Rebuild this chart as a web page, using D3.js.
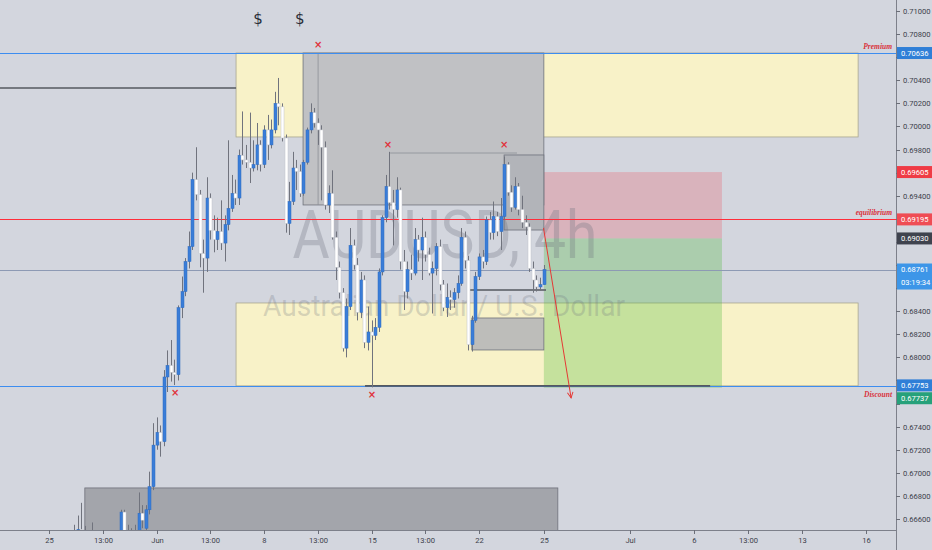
<!DOCTYPE html>
<html><head><meta charset="utf-8">
<script src="https://cdn.jsdelivr.net/npm/d3@7/dist/d3.min.js"></script>
<style>body{margin:0;background:#d3d6de;}svg{display:block}</style>
</head><body><svg id="c" width="932" height="550"></svg>
<script>
// ---------- DATA ----------
const firstBar = 7; // bar index of first candle (6 bars per trading day, bar 0 = 25 May 00:00)
const opens = [0.6646,0.6650,0.6651,0.6648,0.6645,0.6644,0.6646,0.6642,0.6639,0.6641,0.6638,0.6642,0.6644,0.6646,0.6666,0.6650,0.6647,0.6645,0.6650,0.6665,0.6652,0.6668,0.6688,0.6724,0.6735,0.6727,0.6783,0.6793,0.6787,0.6785,0.6843,0.6857,0.6883,0.6896,0.6954,0.6941,0.6890,0.6886,0.6938,0.6910,0.6902,0.6909,0.6899,0.6915,0.6929,0.6942,0.6938,0.6975,0.6971,0.6969,0.6964,0.6967,0.6984,0.6967,0.6997,0.6984,0.6997,0.7020,0.7017,0.6990,0.6916,0.6935,0.6964,0.6961,0.6942,0.6969,0.6997,0.7012,0.7003,0.6997,0.6982,0.6932,0.6942,0.6904,0.6878,0.6856,0.6808,0.6844,0.6897,0.6880,0.6839,0.6867,0.6813,0.6822,0.6819,0.6826,0.6874,0.6921,0.6948,0.6934,0.6928,0.6945,0.6883,0.6857,0.6876,0.6873,0.6902,0.6893,0.6904,0.6889,0.6873,0.6877,0.6896,0.6863,0.6843,0.6852,0.6850,0.6856,0.6864,0.6904,0.6884,0.6811,0.6832,0.6870,0.6887,0.6883,0.6919,0.6908,0.6922,0.6909,0.6922,0.6967,0.6943,0.6930,0.6948,0.6928,0.6917,0.6913,0.6877,0.6867,0.6861,0.6863];
const highs = [0.6655,0.6663,0.6674,0.6654,0.6650,0.6657,0.6650,0.6646,0.6645,0.6644,0.6646,0.6648,0.6650,0.6668,0.6668,0.6655,0.6652,0.6655,0.6683,0.6672,0.6672,0.6701,0.6743,0.6748,0.6741,0.6789,0.6806,0.6815,0.6798,0.6845,0.6870,0.6886,0.6909,0.6960,0.6982,0.6945,0.6902,0.6956,0.6942,0.6923,0.6921,0.6936,0.6923,0.6988,0.6958,0.6954,0.6980,0.7013,0.6984,0.7012,0.6988,0.7003,0.6988,0.7001,0.7010,0.7006,0.7030,0.7042,0.7020,0.6993,0.6952,0.6978,0.6971,0.6967,0.6971,0.6999,0.7020,0.7016,0.7007,0.7001,0.6987,0.6949,0.6962,0.6909,0.6883,0.6860,0.6851,0.6912,0.6902,0.6886,0.6874,0.6871,0.6844,0.6832,0.6834,0.6877,0.6923,0.6958,0.6978,0.6945,0.6956,0.6947,0.6893,0.6883,0.6889,0.6912,0.6906,0.6921,0.6909,0.6895,0.6883,0.6899,0.6902,0.6867,0.6864,0.6858,0.6860,0.6871,0.6912,0.6909,0.6888,0.6836,0.6874,0.6890,0.6893,0.6922,0.6926,0.6935,0.6926,0.6938,0.6974,0.6969,0.6949,0.6956,0.6951,0.6940,0.6923,0.6916,0.6883,0.6871,0.6869,0.6880];
const lows = [0.6642,0.6645,0.6644,0.6642,0.6640,0.6640,0.6638,0.6635,0.6635,0.6633,0.6634,0.6638,0.6639,0.6644,0.6646,0.6642,0.6641,0.6642,0.6648,0.6652,0.6648,0.6664,0.6685,0.6720,0.6714,0.6723,0.6770,0.6779,0.6776,0.6780,0.6834,0.6853,0.6877,0.6893,0.6936,0.6878,0.6856,0.6874,0.6902,0.6891,0.6893,0.6893,0.6883,0.6910,0.6926,0.6932,0.6932,0.6967,0.6964,0.6951,0.6961,0.6962,0.6961,0.6964,0.6971,0.6981,0.6994,0.7001,0.6987,0.6908,0.6906,0.6932,0.6945,0.6939,0.6940,0.6967,0.6994,0.6999,0.6984,0.6936,0.6928,0.6925,0.6902,0.6867,0.6851,0.6805,0.6800,0.6841,0.6876,0.6832,0.6834,0.6808,0.6806,0.6774,0.6815,0.6822,0.6871,0.6917,0.6928,0.6897,0.6921,0.6876,0.6841,0.6851,0.6867,0.6871,0.6883,0.6867,0.6883,0.6871,0.6838,0.6871,0.6858,0.6840,0.6835,0.6841,0.6843,0.6851,0.6862,0.6877,0.6806,0.6805,0.6830,0.6867,0.6877,0.6880,0.6902,0.6902,0.6905,0.6893,0.6919,0.6940,0.6926,0.6928,0.6923,0.6912,0.6906,0.6874,0.6856,0.6857,0.6858,0.6863];
const closes = [0.6650,0.6651,0.6648,0.6645,0.6644,0.6646,0.6642,0.6639,0.6641,0.6638,0.6642,0.6644,0.6646,0.6666,0.6650,0.6647,0.6645,0.6650,0.6665,0.6659,0.6668,0.6688,0.6724,0.6735,0.6727,0.6783,0.6793,0.6787,0.6785,0.6843,0.6857,0.6883,0.6896,0.6954,0.6941,0.6890,0.6886,0.6938,0.6910,0.6902,0.6909,0.6899,0.6915,0.6929,0.6942,0.6938,0.6975,0.6971,0.6969,0.6964,0.6967,0.6984,0.6967,0.6997,0.6984,0.6997,0.7020,0.7017,0.6990,0.6916,0.6935,0.6964,0.6961,0.6942,0.6969,0.6997,0.7012,0.7003,0.6997,0.6982,0.6932,0.6942,0.6904,0.6878,0.6856,0.6808,0.6844,0.6897,0.6880,0.6839,0.6867,0.6813,0.6822,0.6819,0.6826,0.6874,0.6921,0.6948,0.6934,0.6928,0.6945,0.6883,0.6857,0.6876,0.6873,0.6902,0.6893,0.6904,0.6889,0.6873,0.6877,0.6896,0.6863,0.6843,0.6852,0.6850,0.6856,0.6864,0.6904,0.6884,0.6811,0.6832,0.6870,0.6887,0.6883,0.6919,0.6908,0.6922,0.6909,0.6922,0.6967,0.6943,0.6930,0.6948,0.6928,0.6917,0.6913,0.6877,0.6867,0.6861,0.6863,0.68761];

const xTickBars   = [0,15,30,45,60,75,90,105,120,138,162,180,195,210,228];
const xTickLabels = ["25","13:00","Jun","13:00","8","13:00","15","13:00","22","25","Jul","6","13:00","13","16"];
const yTickValues = [0.710,0.708,0.706,0.704,0.702,0.700,0.698,0.696,0.694,0.692,0.690,0.688,0.686,0.684,0.682,0.680,0.678,0.676,0.674,0.672,0.670,0.668,0.666];

// price labels on right axis
const axisLabelValues = [0.70636,0.69605,0.69195,0.69030,0.68761,0.67753,0.67737];
const axisLabelTexts  = ["0.70636","0.69605","0.69195","0.69030","0.68761","0.67753","0.67737"];
const countdownText = "03:19:34";

// key levels
const premiumLevel = 0.70636, equilibriumLevel = 0.69195, discountLevel = 0.67753, lastPrice = 0.68761;
const levelNames = ["Premium","equilibrium","Discount"];

// zones: [barFrom, barTo, priceTop, priceBottom]
const yellowZones = [[52.2,225.8,0.70636,0.69909],[52.2,225.8,0.68471,0.67753]];
const grayZones = [[70.9,138.1,0.70636,0.69320],[127.0,138.1,0.69753,0.69103],[118.0,138.1,0.68341,0.68064],[10.0,142.0,0.66869,0.66400]];
// position tool
const entryPrice = 0.69030, stopPrice = 0.69605, targetPrice = 0.67737;
const positionBars = [138.1,187.8];
// segments [bar1, price1, bar2, price2]
const darkSegments = [[-14,0.70333,52.2,0.70333],[117.5,0.68584,138.7,0.68584],[88.2,0.67753,184.5,0.67753]];
const thinSegments = [[95.2,0.69770,130.6,0.69770],[75.1,0.70636,75.1,0.69320]];
const arrowSeg = [138.0,0.69121,145.7,0.67649];
// markers
const crossMarks = [[75.1,0.70714],[94.6,0.69848],[127.0,0.69840],[35.2,0.67692],[90.1,0.67675]];
const dollarMarks = [[58.3,0.70940],[70.0,0.70940]];

// ---------- DRAW ----------
const W=932,H=550,PR=896,PB=530;
const svg=d3.select("#c");
const x=d3.scaleLinear().domain([0,228]).range([49,866]);
const y=d3.scaleLinear().domain([0.666,0.710]).range([519,11]);

svg.append("rect").attr("width",W).attr("height",H).attr("fill","#d3d6de");
const defs=svg.append("defs");
defs.append("clipPath").attr("id","pc").append("rect").attr("width",PR).attr("height",PB);
defs.append("marker").attr("id","ah").attr("viewBox","0 0 10 10").attr("refX",9).attr("refY",5)
  .attr("markerWidth",7).attr("markerHeight",7).attr("orient","auto")
  .append("path").attr("d","M1,1 L9,5 L1,9").attr("fill","none").attr("stroke","#e53935").attr("stroke-width",1.4);

const g=svg.append("g").attr("clip-path","url(#pc)");
const rectOf=d=>({x:x(d[0]),y:y(d[2]),w:x(d[1])-x(d[0]),h:y(d[3])-y(d[2])});

// yellow zones
g.selectAll(".yz").data(yellowZones).join("rect").each(function(d){const r=rectOf(d);d3.select(this).attr("x",r.x).attr("y",r.y).attr("width",r.w).attr("height",r.h);})
  .attr("fill","#f8f2c8").attr("stroke","#a9a690").attr("stroke-width",0.8);

// position zones
g.append("rect").attr("x",x(positionBars[0])).attr("y",y(stopPrice)).attr("width",x(positionBars[1])-x(positionBars[0]))
  .attr("height",y(entryPrice)-y(stopPrice)).attr("fill","rgba(242,54,69,0.22)");
g.append("rect").attr("x",x(positionBars[0])).attr("y",y(entryPrice)).attr("width",x(positionBars[1])-x(positionBars[0]))
  .attr("height",y(targetPrice)-y(entryPrice)).attr("fill","rgba(80,185,60,0.3)");

// gray zones
const grayFills=["#c0c1c4","#b2b4b9","#bdbdba","#a3a5ab"];
g.selectAll(".gz").data(grayZones).join("rect").each(function(d){const r=rectOf(d);d3.select(this).attr("x",r.x).attr("y",r.y).attr("width",r.w).attr("height",r.h);})
  .attr("fill",(d,i)=>grayFills[i]).attr("stroke","#6e717b").attr("stroke-width",0.8);
g.selectAll(".ts").data(thinSegments).join("line").attr("x1",d=>x(d[0])).attr("y1",d=>y(d[1])).attr("x2",d=>x(d[2])).attr("y2",d=>y(d[3]))
  .attr("stroke","#8c8f97").attr("stroke-width",0.8);

// watermark
g.append("text").attr("x",445).attr("y",258).attr("text-anchor","middle").attr("font-family","Roboto, sans-serif")
  .attr("font-size",66).attr("fill","rgba(110,114,126,0.3)").attr("textLength",305).attr("lengthAdjust","spacingAndGlyphs").text("AUDUSD, 4h");
g.append("text").attr("x",444).attr("y",316).attr("text-anchor","middle").attr("font-family","Roboto, sans-serif")
  .attr("font-size",30).attr("fill","rgba(110,114,126,0.26)").attr("textLength",362).attr("lengthAdjust","spacingAndGlyphs").text("Australian Dollar / U.S. Dollar");

// level lines
g.append("line").attr("x1",0).attr("x2",PR).attr("y1",Math.round(y(lastPrice))+0.5).attr("y2",Math.round(y(lastPrice))+0.5).attr("stroke","#8d9ab4").attr("stroke-width",1);
[[premiumLevel,"#3d8df0"],[equilibriumLevel,"#ff2e3b"],[discountLevel,"#3d8df0"]].forEach(([v,c])=>{
  g.append("line").attr("x1",0).attr("x2",PR).attr("y1",Math.round(y(v))+0.5).attr("y2",Math.round(y(v))+0.5).attr("stroke",c).attr("stroke-width",1.1);
});
g.selectAll(".ds").data(darkSegments).join("line").attr("x1",d=>x(d[0])).attr("y1",d=>y(d[1])).attr("x2",d=>x(d[2])).attr("y2",d=>y(d[3]))
  .attr("stroke","#55585f").attr("stroke-width",1.6);

// candles
const bars=d3.range(opens.length).map(i=>({b:firstBar+i,o:opens[i],h:highs[i],l:lows[i],c:closes[i]}));
const cg=g.append("g");
cg.selectAll(".wk").data(bars).join("line").attr("x1",d=>Math.round(x(d.b))+0.5).attr("x2",d=>Math.round(x(d.b))+0.5)
  .attr("y1",d=>y(d.h)).attr("y2",d=>y(d.l)).attr("stroke","#70737d").attr("stroke-width",1);
cg.selectAll(".bd").data(bars).join("rect").attr("x",d=>Math.round(x(d.b))-1).attr("width",3)
  .attr("y",d=>y(Math.max(d.o,d.c))).attr("height",d=>Math.max(1,Math.abs(y(d.o)-y(d.c))))
  .attr("fill",d=>d.c>=d.o?"#3a7dd8":"#ffffff").attr("stroke",d=>d.c>=d.o?"#2f6cc0":"#c0c3ca").attr("stroke-width",0.5);

// arrow
g.append("line").attr("x1",x(arrowSeg[0])).attr("y1",y(arrowSeg[1])).attr("x2",x(arrowSeg[2])).attr("y2",y(arrowSeg[3]))
  .attr("stroke","#e53935").attr("stroke-width",1).attr("marker-end","url(#ah)");

// markers
g.selectAll(".cm").data(crossMarks).join("text").attr("x",d=>x(d[0])).attr("y",d=>y(d[1])+3.5).attr("text-anchor","middle")
  .attr("font-family","DejaVu Sans").attr("font-weight","bold").attr("font-size",10).attr("fill","#e0333c").text("×");
g.selectAll(".dm").data(dollarMarks).join("text").attr("x",d=>x(d[0])).attr("y",d=>y(d[1])+6).attr("text-anchor","middle")
  .attr("font-family","DejaVu Sans").attr("font-size",15).attr("fill","#2a2e39").text("$");

// level names
[[premiumLevel,-4],[equilibriumLevel,-4],[discountLevel,11]].forEach(([v,dy],i)=>{
  g.append("text").attr("x",892).attr("y",y(v)+dy).attr("text-anchor","end").attr("font-family","Liberation Serif")
   .attr("font-style","italic").attr("font-weight","bold").attr("font-size",7.5).attr("fill","#d9313b").text(levelNames[i]);
});

// axes frame
svg.append("line").attr("x1",PR+0.5).attr("x2",PR+0.5).attr("y1",0).attr("y2",H).attr("stroke","#7d808a");
svg.append("line").attr("x1",0).attr("x2",PR).attr("y1",PB+0.5).attr("y2",PB+0.5).attr("stroke","#7d808a");

// price label geometry
const labelColors=["#2f7fd7","#ef3b45","#ef4c54","#3f434e","#3d96e8","#2f7fd7","#26a17a"];
const labelOffsets=[0,0,0,0,0,-0.5,10.5];
const labelBoxes=axisLabelValues.map((v,i)=>{const c=y(v)+labelOffsets[i];return [c-6,c-6+(i===4?26:12)];});

// y axis ticks (hide those covered by price labels)
const ya=svg.append("g");
yTickValues.forEach(v=>{
  const yy=Math.round(y(v))+0.5;
  ya.append("line").attr("x1",PR).attr("x2",PR+4).attr("y1",yy).attr("y2",yy).attr("stroke","#6b6e78");
  const hidden=labelBoxes.some(([a,b])=>yy+5>a && yy-5<b);
  if(!hidden) ya.append("text").attr("x",PR+7).attr("y",yy+2.6).attr("font-family","Roboto, sans-serif").attr("font-size",7.6).attr("fill","#3d414b").text(v.toFixed(5));
});
// x axis ticks
xTickBars.forEach((b,i)=>{
  const xx=Math.round(x(b))+0.5;
  svg.append("line").attr("x1",xx).attr("x2",xx).attr("y1",PB).attr("y2",PB+4).attr("stroke","#6b6e78");
  svg.append("text").attr("x",xx).attr("y",PB+13).attr("text-anchor","middle").attr("font-family","Roboto, sans-serif").attr("font-size",7.6).attr("fill","#3d414b").text(xTickLabels[i]);
});

// price labels
axisLabelValues.forEach((v,i)=>{
  const [a,b]=labelBoxes[i];
  svg.append("rect").attr("x",PR+1).attr("y",a).attr("width",W-PR-1).attr("height",b-a).attr("fill",labelColors[i]);
  svg.append("text").attr("x",PR+5).attr("y",a+8.7).attr("font-family","Roboto, sans-serif").attr("font-size",7.6).attr("fill","#fff").text(axisLabelTexts[i]);
  if(i===4) svg.append("text").attr("x",PR+5).attr("y",a+21.5).attr("font-family","Roboto, sans-serif").attr("font-size",7.6).attr("fill","#fff").text(countdownText);
});
</script></body></html>
